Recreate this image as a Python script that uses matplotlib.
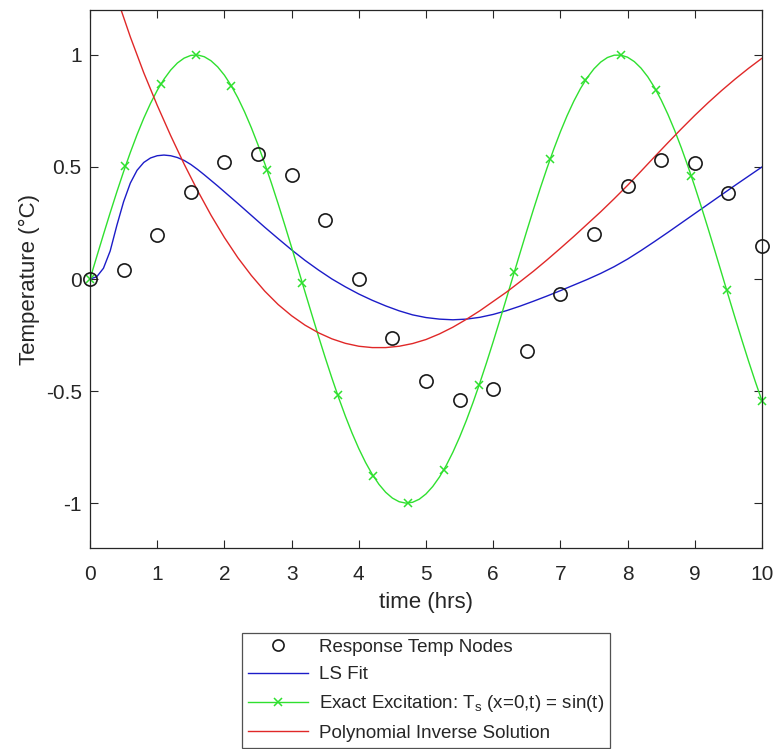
import numpy as np
import matplotlib
matplotlib.use('Agg')
import matplotlib.pyplot as plt
from matplotlib.lines import Line2D

plt.rcParams['font.family'] = ['Liberation Sans', 'DejaVu Sans']
plt.rcParams['mathtext.fontset'] = 'custom'
plt.rcParams['mathtext.rm'] = 'Liberation Sans'
plt.rcParams['mathtext.it'] = 'Liberation Sans'

# measured node temperatures every half hour
t_nodes = [0, 0.5, 1, 1.5, 2, 2.5, 3, 3.5, 4, 4.5, 5,
           5.5, 6, 6.5, 7, 7.5, 8, 8.5, 9, 9.5, 10]
T_nodes = [0, 0.04, 0.195, 0.387, 0.524, 0.556, 0.462, 0.262, 0.0, -0.262, -0.453,
           -0.538, -0.489, -0.32, -0.067, 0.2, 0.413, 0.529, 0.516, 0.382, 0.147]

# least squares fit
t_ls = [0, 0.1, 0.2, 0.3, 0.4, 0.5, 0.6, 0.7, 0.8, 0.9, 1.0, 1.1, 1.2, 1.3, 1.4,
        1.5, 1.6, 1.7, 1.8, 1.9, 2.0, 2.2, 2.4, 2.6, 2.8, 3.0, 3.2, 3.4, 3.6, 3.8,
        4.0, 4.2, 4.4, 4.6, 4.8, 5.0, 5.2, 5.4, 5.6, 5.8, 6.0, 6.2, 6.4, 6.6, 6.8,
        7.0, 7.2, 7.4, 7.6, 7.8, 8.0, 8.2, 8.4, 8.6, 8.8, 9.0, 9.2, 9.4, 9.6, 9.8, 10.0]
ls_fit = [0, 0.01, 0.048, 0.125, 0.24, 0.345, 0.428, 0.485, 0.52, 0.54, 0.55, 0.553,
          0.55, 0.542, 0.529, 0.511, 0.489, 0.465, 0.44, 0.415, 0.389, 0.337, 0.284,
          0.231, 0.18, 0.13, 0.083, 0.04, 0.0, -0.035, -0.067, -0.095, -0.12, -0.142,
          -0.16, -0.172, -0.179, -0.182, -0.179, -0.171, -0.158, -0.141, -0.121,
          -0.099, -0.076, -0.052, -0.027, -0.002, 0.025, 0.055, 0.089, 0.127, 0.167,
          0.208, 0.25, 0.292, 0.334, 0.376, 0.418, 0.459, 0.50]

# surface excitation T_s(x=0,t)
t_exc = [0, 0.1, 0.2, 0.3, 0.4, 0.5, 0.6, 0.7, 0.8, 0.9, 1.0, 1.1, 1.2, 1.3, 1.4,
         1.5, 1.6, 1.7, 1.8, 1.9, 2.0, 2.1, 2.2, 2.3, 2.4, 2.5, 2.6, 2.7, 2.8, 2.9,
         3.0, 3.1, 3.2, 3.3, 3.4, 3.5, 3.6, 3.7, 3.8, 3.9, 4.0, 4.1, 4.2, 4.3, 4.4,
         4.5, 4.6, 4.7, 4.8, 4.9, 5.0, 5.1, 5.2, 5.3, 5.4, 5.5, 5.6, 5.7, 5.8, 5.9,
         6.0, 6.1, 6.2, 6.3, 6.4, 6.5, 6.6, 6.7, 6.8, 6.9, 7.0, 7.1, 7.2, 7.3, 7.4,
         7.5, 7.6, 7.7, 7.8, 7.9, 8.0, 8.1, 8.2, 8.3, 8.4, 8.5, 8.6, 8.7, 8.8, 8.9,
         9.0, 9.1, 9.2, 9.3, 9.4, 9.5, 9.6, 9.7, 9.8, 9.9, 10.0]
excitation = [0, 0.0998, 0.1987, 0.2955, 0.3894, 0.4794, 0.5646, 0.6442, 0.7174,
              0.7833, 0.8415, 0.8912, 0.9320, 0.9636, 0.9854, 0.9975, 0.9996, 0.9917,
              0.9738, 0.9463, 0.9093, 0.8632, 0.8085, 0.7457, 0.6755, 0.5985, 0.5155,
              0.4274, 0.3350, 0.2392, 0.1411, 0.0416, -0.0584, -0.1577, -0.2555,
              -0.3508, -0.4425, -0.5298, -0.6119, -0.6878, -0.7568, -0.8183, -0.8716,
              -0.9162, -0.9516, -0.9775, -0.9937, -0.9999, -0.9962, -0.9825, -0.9589,
              -0.9258, -0.8835, -0.8323, -0.7728, -0.7055, -0.6313, -0.5507, -0.4646,
              -0.3739, -0.2794, -0.1822, -0.0831, 0.0168, 0.1165, 0.2151, 0.3115,
              0.4048, 0.4941, 0.5784, 0.6570, 0.7290, 0.7937, 0.8504, 0.8987, 0.9380,
              0.9679, 0.9882, 0.9985, 0.9989, 0.9894, 0.9699, 0.9407, 0.9022, 0.8546,
              0.7985, 0.7344, 0.6630, 0.5849, 0.5010, 0.4121, 0.3191, 0.2229, 0.1245,
              0.0248, -0.0752, -0.1743, -0.2718, -0.3665, -0.4575, -0.5440]

# excitation samples (20 points)
t_marks = [0, 0.526, 1.053, 1.579, 2.105, 2.632, 3.158, 3.684, 4.211, 4.737,
           5.263, 5.789, 6.316, 6.842, 7.368, 7.895, 8.421, 8.947, 9.474, 10.0]
exc_marks = [0, 0.502, 0.869, 1.0, 0.861, 0.488, -0.016, -0.519, -0.879, -0.999,
             -0.851, -0.474, 0.033, 0.534, 0.888, 0.998, 0.843, 0.459, -0.049, -0.544]

# polynomial inverse solution
t_poly = [0.2, 0.4, 0.6, 0.8, 1.0, 1.2, 1.4, 1.6, 1.8, 2.0, 2.2, 2.4, 2.6, 2.8, 3.0,
          3.2, 3.4, 3.6, 3.8, 4.0, 4.2, 4.4, 4.6, 4.8, 5.0, 5.2, 5.4, 5.6, 5.8, 6.0,
          6.2, 6.4, 6.6, 6.8, 7.0, 7.2, 7.4, 7.6, 7.8, 8.0, 8.2, 8.4, 8.6, 8.8, 9.0,
          9.2, 9.4, 9.6, 9.8, 10.0]
poly_inverse = [1.44, 1.255, 1.08, 0.92, 0.775, 0.64, 0.513, 0.395, 0.285, 0.185,
                0.095, 0.016, -0.054, -0.114, -0.164, -0.206, -0.24, -0.267, -0.287,
                -0.3, -0.306, -0.306, -0.3, -0.288, -0.27, -0.245, -0.215, -0.18,
                -0.142, -0.1, -0.058, -0.012, 0.035, 0.085, 0.137, 0.19, 0.245,
                0.3, 0.358, 0.418, 0.481, 0.545, 0.608, 0.67, 0.73, 0.787, 0.841,
                0.892, 0.94, 0.985]

c_blue = '#1c1cc8'
c_green = '#2fe02f'
c_red = '#e02828'
c_txt = '#262626'

fig = plt.figure(figsize=(7.74, 7.49), dpi=100)
ax = fig.add_axes([0.1163, 0.2684, 0.8682, 0.7182])

ax.plot(t_nodes, T_nodes, 'o', mfc='none', mec='#1a1a1a', ms=9.5, mew=1.2,
        zorder=5, clip_on=False)
ax.plot(t_ls, ls_fit, '-', color=c_blue, lw=1.0)
ax.plot(t_exc, excitation, '-', color=c_green, lw=1.0)
ax.plot(t_marks, exc_marks, 'x', color=c_green, ms=5.5, mew=1.1, clip_on=False)
ax.plot(t_poly, poly_inverse, '-', color=c_red, lw=1.0)

ax.set_xlim(0, 10)
ax.set_ylim(-1.2, 1.2)
ax.set_xticks(range(0, 11))
ax.set_yticks([-1, -0.5, 0, 0.5, 1])
ax.set_yticklabels(['-1', '-0.5', '0', '0.5', '1'])
ax.tick_params(direction='in', top=True, right=True, length=6, width=0.8,
               labelsize=15, colors=c_txt)
ax.tick_params(axis='x', pad=12)
ax.tick_params(axis='y', pad=6)
for s in ax.spines.values():
    s.set_color('#262626')
    s.set_linewidth(0.9)

ax.set_xlabel('time (hrs)', fontsize=16, color=c_txt, labelpad=6)
ax.set_ylabel('Temperature (°C)', fontsize=16, color=c_txt, labelpad=4)

handles = [
    Line2D([], [], ls='none', marker='o', mfc='none', mec='#1a1a1a', ms=8, mew=1.2),
    Line2D([], [], color=c_blue, lw=1.0),
    Line2D([], [], color=c_green, lw=1.0, marker='x', ms=5.5, mew=1.1),
    Line2D([], [], color=c_red, lw=1.0),
]
labels = ['Response Temp Nodes', 'LS Fit',
          r'Exact Excitation: T$_{\rm s}$ (x=0,t) = sin(t)',
          'Polynomial Inverse Solution']
leg = fig.legend(handles, labels, loc='upper center', bbox_to_anchor=(0.5504, 0.1549),
                 fontsize=13.5, frameon=True, fancybox=False, handlelength=3.2,
                 handletextpad=0.6, borderpad=0.3, labelspacing=0.55,
                 borderaxespad=0, numpoints=1)
leg.get_frame().set_edgecolor('#262626')
leg.get_frame().set_linewidth(0.9)
for txt in leg.get_texts():
    txt.set_color(c_txt)

fig.savefig('out.png', dpi=100)
